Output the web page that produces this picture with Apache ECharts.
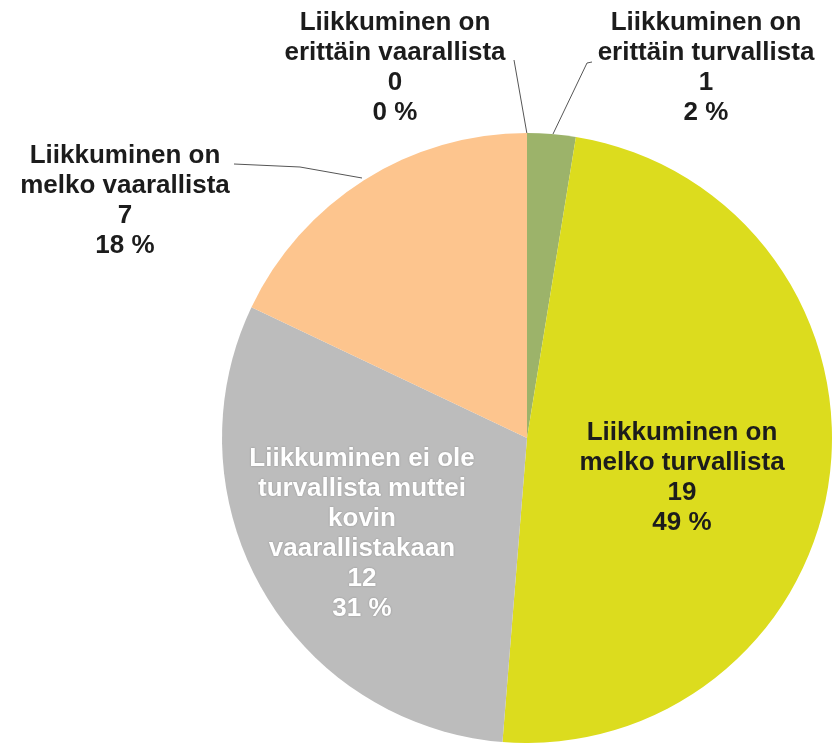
<!DOCTYPE html>
<html lang="fi">
<head>
<meta charset="UTF-8">
<title>Liikkumisen turvallisuus</title>
<style>
  html, body { margin: 0; padding: 0; width: 100%; height: 100%; overflow: hidden; background: #fff; }
  #chart { width: 832px; height: 743px; }
</style>
<script src="https://cdn.jsdelivr.net/npm/echarts@6/dist/echarts.min.js"></script>
</head>
<body>
<div id="chart"></div>
<script>
// categories in clockwise order from the top
const categories = [
  'Liikkuminen on\nerittäin turvallista',
  'Liikkuminen on\nmelko turvallista',
  'Liikkuminen ei ole\nturvallista muttei\nkovin\nvaarallistakaan',
  'Liikkuminen on\nmelko vaarallista',
  'Liikkuminen on\nerittäin vaarallista'
];
const counts = [1, 19, 12, 7, 0];
const colors = ['#9cb36a', '#dcdc1e', '#bcbcbc', '#fdc58e', '#f6b98a'];

// label centre per slice, plus leader line points for the outside ones
const labelPos = [
  { x: 706, y: 68, line: [[592, 62], [587, 63], [553, 134]] },
  { x: 682, y: 478 },
  { x: 362, y: 534 },
  { x: 125, y: 201, line: [[234, 164], [300, 167], [362, 178]] },
  { x: 395, y: 68, line: [[514, 60], [527, 134]] }
];
const inside = [false, true, true, false, false];

const chart = echarts.init(document.getElementById('chart'));

const option = {
  animation: false,
  series: [{
    type: 'pie',
    center: [527, 438],
    radius: 305,
    startAngle: 90,
    clockwise: true,
    avoidLabelOverlap: false,
    stillShowZeroSum: true,
    percentPrecision: 0,
    itemStyle: { borderWidth: 0 },
    label: {
      fontFamily: 'Liberation Sans, Arial, sans-serif',
      fontWeight: 'bold',
      fontSize: 26,
      lineHeight: 30,
      color: '#1c1c1c',
      align: 'center',
      formatter: function (p) {
        return p.name + '\n' + p.value + '\n' + p.percent + ' %';
      }
    },
    labelLine: {
      show: true,
      lineStyle: { color: '#555', width: 1 }
    },
    labelLayout: function (p) {
      const pos = labelPos[p.dataIndex];
      const out = { x: pos.x, y: pos.y, align: 'center', verticalAlign: 'middle' };
      if (pos.line) out.labelLinePoints = pos.line;
      return out;
    },
    data: categories.map((name, i) => ({
      name: name,
      value: counts[i],
      itemStyle: { color: colors[i] },
      label: inside[i]
        ? { position: 'inside', color: i === 2 ? '#ffffff' : '#1c1c1c',
            textShadowColor: i === 2 ? 'rgba(0,0,0,0.25)' : 'transparent', textShadowBlur: 2 }
        : { position: 'outside' },
      labelLine: { show: !inside[i] }
    }))
  }]
};

chart.setOption(option);
</script>
</body>
</html>
